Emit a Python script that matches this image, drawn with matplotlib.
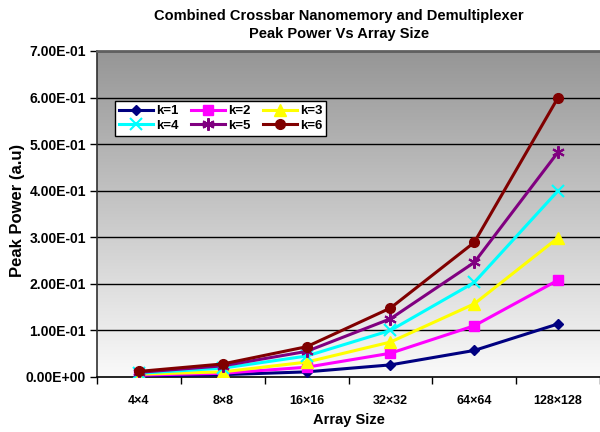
import matplotlib
matplotlib.use("Agg")
import matplotlib.pyplot as plt
import numpy as np
from matplotlib.ticker import FixedLocator, FuncFormatter

plt.rcParams['font.family'] = ['Liberation Sans', 'DejaVu Sans']
plt.rcParams['font.weight'] = 'bold'

categories = ["4×4", "8×8", "16×16", "32×32", "64×64", "128×128"]
series_names = ["k=1", "k=2", "k=3", "k=4", "k=5", "k=6"]
k1 = [0.002, 0.005, 0.011, 0.026, 0.057, 0.114]
k2 = [0.004, 0.008, 0.021, 0.051, 0.110, 0.208]
k3 = [0.006, 0.011, 0.032, 0.075, 0.157, 0.299]
k4 = [0.008, 0.019, 0.045, 0.100, 0.203, 0.400]
k5 = [0.010, 0.024, 0.055, 0.125, 0.246, 0.483]
k6 = [0.012, 0.028, 0.065, 0.148, 0.289, 0.600]
series = [k1, k2, k3, k4, k5, k6]
yticks = [0.0, 0.1, 0.2, 0.3, 0.4, 0.5, 0.6, 0.7]
title_lines = ["Combined Crossbar Nanomemory and Demultiplexer", "Peak Power Vs Array Size"]

colors = ["#000080", "#FF00FF", "#FFFF00", "#00FFFF", "#800080", "#800000"]
markers = ["D", "s", "^", "x", (6, 2, 0), "o"]
msizes = [5.5, 7, 8, 8, 9, 7]

fig = plt.figure(figsize=(6, 4.32), dpi=100)
ax = fig.add_axes([97/600, 1-377/432, 1-97/600, (377-51)/432])

# gradient background
grad = np.linspace(0, 1, 256).reshape(-1, 1)
cmap = matplotlib.colors.LinearSegmentedColormap.from_list("g", ["#FAFAFA", "#969696"])
ax.imshow(grad, aspect='auto', cmap=cmap, origin='lower',
          extent=[0, 1, 0, 1], transform=ax.transAxes, zorder=0)

x = np.arange(len(categories))
handles = []
for name, vals, c, m, ms in zip(series_names, series, colors, markers, msizes):
    mew = 1.5 if m in ("x", (6, 2, 0)) else 1
    h, = ax.plot(x, vals, color=c, lw=2.2, marker=m, markersize=ms,
                 markeredgecolor=c, markerfacecolor=c, markeredgewidth=mew,
                 label=name, zorder=3)
    handles.append(h)

ax.set_xlim(-0.5, len(categories) - 0.5)
ax.set_ylim(0, 0.7)
ax.set_yticks(yticks)
ax.yaxis.set_major_formatter(FuncFormatter(lambda v, p: f"{v:.2E}"))
for yv in yticks[1:]:
    ax.axhline(yv, color="black", lw=1.0, zorder=1)

ax.xaxis.set_major_locator(FixedLocator(x))
ax.set_xticklabels(categories)
ax.xaxis.set_minor_locator(FixedLocator(np.arange(-0.5, len(categories), 1.0)))
ax.tick_params(axis='x', which='major', length=0, pad=13, labelsize=9)
ax.tick_params(axis='x', which='minor', length=5, width=1, direction='out')
ax.tick_params(axis='y', length=5, width=1, direction='out', labelsize=10, pad=3)
for lab in ax.get_xticklabels() + ax.get_yticklabels():
    lab.set_fontweight('bold')

ax.spines['right'].set_visible(False)
ax.spines['top'].set_color('#606060')
ax.spines['top'].set_linewidth(2)
ax.spines['left'].set_color('#303030')
ax.spines['left'].set_linewidth(1.2)
ax.spines['bottom'].set_color('black')
ax.spines['bottom'].set_linewidth(1.2)

ax.set_xlabel("Array Size", fontsize=10.5, fontweight='bold', labelpad=4)
ax.set_ylabel("Peak Power (a.u)", fontsize=12, fontweight='bold')
ax.yaxis.set_label_coords((25-97)/503, (377-210)/326)

fig.text(339/600, 1-15.7/432, title_lines[0], ha='center', va='center',
         fontsize=10.5, fontweight='bold')
fig.text(339/600, 1-34/432, title_lines[1], ha='center', va='center',
         fontsize=10.5, fontweight='bold')

# legend row-wise: reorder for column-major filling
order = [0, 3, 1, 4, 2, 5]
leg = ax.legend([handles[i] for i in order], [series_names[i] for i in order],
                ncol=3, loc='upper left', bbox_to_anchor=((115-97)/503, (377-101)/326),
                frameon=True, fancybox=False, edgecolor='black', framealpha=1,
                handlelength=2.6, columnspacing=0.95, handletextpad=0.2,
                borderpad=0.3, labelspacing=0.2, borderaxespad=0,
                prop={'weight': 'bold', 'size': 9.5})
leg.get_frame().set_linewidth(1)
leg.set_zorder(5)

fig.savefig("out.png", dpi=100)
